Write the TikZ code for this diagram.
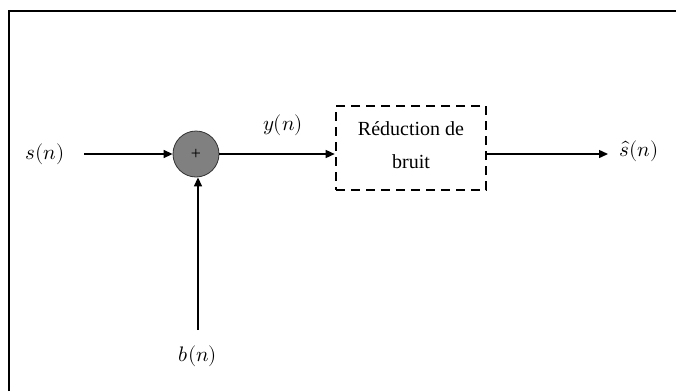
\documentclass[tikz,border=0pt]{standalone}
\usepackage{fontspec}
\setmainfont{Liberation Serif}
\usepackage{unicode-math}
\usetikzlibrary{arrows.meta}
\begin{document}
\begin{tikzpicture}[x=1pt,y=-1pt,
  sig/.style={line width=1.4pt,-{Triangle[length=9pt,width=8pt]}},
  lbl/.style={font=\fontsize{21}{24}\selectfont},
  sumnode/.style={circle,draw=black!80,line width=0.8pt,fill=black!50,minimum size=46pt,inner sep=0pt,font=\fontsize{18}{20}\selectfont},
  procbox/.style={draw,line width=2.6pt,dash pattern=on 9pt off 6pt,minimum width=150pt,minimum height=84pt,inner sep=0pt,font=\fontsize{20}{22}\selectfont}]
\useasboundingbox (0,0) rectangle (676,391);
% frame
\coordinate (ftl) at (8.5,11);
\draw[line width=2pt] (8.5,391) -- (ftl) -- (676,11);
% blocks
\node[sumnode] (sum) at (196,154) {+};
\node[procbox] (nr) at (411,148)
  {\raisebox{5pt}{\begin{tabular}{@{}c@{}}Réduction de\\[11pt]bruit\end{tabular}}};
% labels and free ends
\node[lbl] (s) at (45,154) {$s(n)$};
\node[lbl] (y) at (283,125) {$y(n)$};
\node[lbl] (b) at (198,356) {$b(n)$};
\node[lbl] (sh) at (639,151) {$\hat{s}(n)$};
\coordinate (sin) at (84,154);
\coordinate (bin) at (198,330);
\coordinate (sout) at (608,154);
% connectors
\draw[sig] (sin) -- (sum.west);
\draw[sig] (bin) -- (sum.south -| bin);
\draw[sig] (sum.east) -- (sum.east -| nr.west);
\draw[sig] (sum.east -| nr.east) -- (sout);
\end{tikzpicture}
\end{document}
